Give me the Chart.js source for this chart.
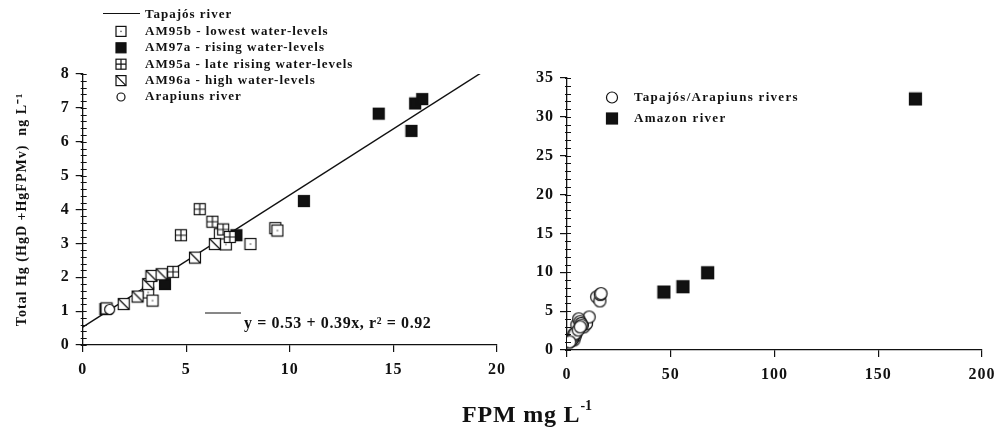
<!DOCTYPE html>
<html>
<head>
<meta charset="utf-8">
<script src="https://cdn.jsdelivr.net/npm/chart.js@4/dist/chart.umd.min.js"></script>
<style>
html, body { margin: 0; padding: 0; background: #fff; overflow: hidden; }
body { width: 994px; height: 429px; position: relative; font-family: "Liberation Serif", "Times New Roman", serif; }
#izq { position: absolute; left: 0; top: 0; }
#der { position: absolute; left: 520px; top: 0; }
#tituloX { position: absolute; left: 462px; top: 402px; font-weight: bold; font-size: 24px; letter-spacing: 0.8px; color: #111; white-space: nowrap; line-height: 1; }
#tituloX sup { font-size: 14px; position: relative; top: -3px; letter-spacing: 0; }
</style>
</head>
<body>
<canvas id="izq" width="520" height="429"></canvas>
<canvas id="der" width="494" height="429"></canvas>
<div id="tituloX">FPM mg L<sup>-1</sup></div>
<script>
// --- datos ---
const am95bX = [1.15, 3.16, 3.37, 6.62, 6.91, 8.1, 9.3, 9.4];
const am95bY = [1.08, 1.55, 1.31, 3.27, 2.97, 2.98, 3.45, 3.38];
const am97aX = [1.1, 3.97, 7.42, 10.68, 14.29, 15.87, 16.05, 16.39];
const am97aY = [1.06, 1.8, 3.24, 4.25, 6.83, 6.32, 7.13, 7.26];
const am95aX = [4.36, 4.74, 5.65, 6.26, 6.78, 7.1];
const am95aY = [2.16, 3.24, 4.01, 3.64, 3.41, 3.19];
const am96aX = [1.98, 2.65, 3.16, 3.32, 3.81, 5.42, 6.38];
const am96aY = [1.21, 1.43, 1.8, 2.04, 2.09, 2.58, 2.98];
const arapiunsX = [1.3];
const arapiunsY = [1.05];
const rectaX = [0, 19.2];
const rectaY = [0.53, 8.02];
const amazonasX = [46.7, 55.9, 67.8, 167.9];
const amazonasY = [7.46, 8.14, 9.94, 32.3];

const ticksIzqX = [0, 5, 10, 15, 20];
const ticksIzqY = [0, 1, 2, 3, 4, 5, 6, 7, 8];
const ticksDerX = [0, 50, 100, 150, 200];
const ticksDerY = [0, 5, 10, 15, 20, 25, 30, 35];

const etiquetasIzq = ['Tapajós river', 'AM95b - lowest water-levels', 'AM97a - rising water-levels',
    'AM95a - late rising water-levels', 'AM96a - high water-levels', 'Arapiuns river'];
const etiquetasDer = ['Tapajós/Arapiuns rivers', 'Amazon river'];
const ecuacion = 'y = 0.53 + 0.39x, r² = 0.92';

const NEGRO = '#111';
const FUENTE = '"Liberation Serif", "Times New Roman", serif';

function pares(xs, ys) {
    return xs.map((x, i) => ({ x: x, y: ys[i] }));
}

// marcadores dibujados a mano
function dibujarMarcador(g, tipo, cx, cy, lado) {
    const h = lado / 2;
    g.save();
    g.strokeStyle = NEGRO;
    g.lineWidth = 1.2;
    if (tipo === 'circulo') {
        g.beginPath();
        g.arc(cx, cy, h, 0, Math.PI * 2);
        g.fillStyle = '#fff';
        g.fill();
        g.stroke();
        g.restore();
        return;
    }
    g.fillStyle = tipo === 'lleno' ? NEGRO : '#fff';
    g.fillRect(cx - h, cy - h, lado, lado);
    g.strokeRect(cx - h, cy - h, lado, lado);
    g.beginPath();
    if (tipo === 'punto') {
        g.fillStyle = '#555';
        g.fillRect(cx - 0.7, cy - 0.7, 1.4, 1.4);
    } else if (tipo === 'cruz') {
        g.moveTo(cx, cy - h); g.lineTo(cx, cy + h);
        g.moveTo(cx - h, cy); g.lineTo(cx + h, cy);
    } else if (tipo === 'diagonal') {
        g.moveTo(cx - h, cy - h); g.lineTo(cx + h, cy + h);
    }
    g.stroke();
    g.restore();
}

function crearMarcador(tipo, lado) {
    const c = document.createElement('canvas');
    const t = Math.ceil(lado + 3);
    c.width = t; c.height = t;
    dibujarMarcador(c.getContext('2d'), tipo, t / 2, t / 2, lado);
    return c;
}

// ticks menores y letra espaciada
function pluginEjes(pasoMenor) {
    return {
        id: 'ejes',
        beforeDraw(chart) {
            chart.ctx.letterSpacing = '1px';
        },
        afterDraw(chart) {
            const g = chart.ctx;
            const y = chart.scales.y;
            g.save();
            g.strokeStyle = NEGRO;
            g.lineWidth = 1;
            const x0 = chart.chartArea.left;
            for (let v = y.min; v <= y.max + 1e-9; v += pasoMenor) {
                const py = Math.round(y.getPixelForValue(v)) + 0.5;
                g.beginPath();
                g.moveTo(x0 - 2, py);
                g.lineTo(x0 + 4, py);
                g.stroke();
            }
            g.restore();
        }
    };
}

const pluginLeyendaIzq = {
    id: 'leyendaIzq',
    afterDraw(chart) {
        const g = chart.ctx;
        const tipos = [null, 'punto', 'lleno', 'cruz', 'diagonal', 'circulo'];
        g.save();
        g.font = 'bold 13px ' + FUENTE;
        g.letterSpacing = '1px';
        g.fillStyle = NEGRO;
        g.textBaseline = 'middle';
        etiquetasIzq.forEach((txt, i) => {
            const yy = 15 + i * 16.4;
            if (i === 0) {
                g.strokeStyle = NEGRO;
                g.lineWidth = 1.2;
                g.beginPath();
                g.moveTo(103, yy - 1.5);
                g.lineTo(140, yy - 1.5);
                g.stroke();
            } else {
                dibujarMarcador(g, tipos[i], 121, yy, tipos[i] === 'circulo' ? 8 : 10);
            }
            g.fillText(txt, 145, yy);
        });
        // recta de la ecuacion
        g.strokeStyle = NEGRO;
        g.lineWidth = 1;
        g.beginPath();
        g.moveTo(205, 313);
        g.lineTo(241, 313);
        g.stroke();
        g.font = 'bold 16px ' + FUENTE;
        g.letterSpacing = '0.6px';
        g.textBaseline = 'alphabetic';
        g.fillText(ecuacion, 244, 328);
        g.restore();
    }
};

const pluginLeyendaDer = {
    id: 'leyendaDer',
    afterDraw(chart) {
        const g = chart.ctx;
        g.save();
        g.font = 'bold 13px ' + FUENTE;
        g.letterSpacing = '1.3px';
        g.fillStyle = NEGRO;
        g.textBaseline = 'middle';
        dibujarMarcador(g, 'circulo', 92, 97.5, 11);
        g.fillText(etiquetasDer[0], 114, 98);
        dibujarMarcador(g, 'lleno', 92, 118.5, 11);
        g.fillText(etiquetasDer[1], 114, 119);
        g.restore();
    }
};

function opcionesEjes(cfg) {
    return {
        x: {
            type: 'linear', min: cfg.xMin, max: cfg.xMax,
            afterFit: s => { s.height = cfg.altoX; },
            afterBuildTicks: s => { s.ticks = cfg.ticksX.map(v => ({ value: v })); },
            ticks: { color: NEGRO, padding: 8, font: { family: FUENTE, size: 16, weight: 'bold' } },
            grid: { drawOnChartArea: false, tickLength: 7, color: NEGRO, lineWidth: 1.2 },
            border: { color: NEGRO, width: 1.3 }
        },
        y: {
            type: 'linear', min: cfg.yMin, max: cfg.yMax,
            afterFit: s => { s.width = cfg.anchoY; },
            afterBuildTicks: s => { s.ticks = cfg.ticksY.map(v => ({ value: v })); },
            ticks: { color: NEGRO, padding: 6, font: { family: FUENTE, size: 16, weight: 'bold' } },
            grid: { drawOnChartArea: false, tickLength: 7, color: NEGRO, lineWidth: 1.2 },
            border: { color: NEGRO, width: 1.3 },
            title: cfg.tituloY ? {
                display: true, text: cfg.tituloY, color: NEGRO,
                padding: { top: 14, bottom: 0 },
                font: { family: FUENTE, size: 14, weight: 'bold' }
            } : { display: false }
        }
    };
}

const mk = {
    punto: crearMarcador('punto', 11),
    lleno: crearMarcador('lleno', 11),
    cruz: crearMarcador('cruz', 11),
    diagonal: crearMarcador('diagonal', 11),
    circulo: crearMarcador('circulo', 10),
    circuloDer: crearMarcador('circulo', 12),
    llenoDer: crearMarcador('lleno', 12)
};

new Chart(document.getElementById('izq'), {
    type: 'scatter',
    data: {
        datasets: [
            { label: etiquetasIzq[1], data: pares(am95bX, am95bY), pointStyle: mk.punto, order: 3 },
            { label: etiquetasIzq[3], data: pares(am95aX, am95aY), pointStyle: mk.cruz, order: 2 },
            { label: etiquetasIzq[2], data: pares(am97aX, am97aY), pointStyle: mk.lleno, order: 4 },
            { label: etiquetasIzq[4], data: pares(am96aX, am96aY), pointStyle: mk.diagonal, order: 1 },
            { label: etiquetasIzq[5], data: pares(arapiunsX, arapiunsY), pointStyle: mk.circulo, order: 0 },
            { label: etiquetasIzq[0], type: 'line', data: pares(rectaX, rectaY), borderColor: NEGRO,
              borderWidth: 1.4, pointRadius: 0, fill: false, order: 10 }
        ]
    },
    options: {
        responsive: false,
        animation: false,
        layout: { padding: { top: 74, right: 23, left: 0, bottom: 0 } },
        plugins: { legend: { display: false }, tooltip: { enabled: false } },
        scales: opcionesEjes({
            xMin: 0, xMax: 20, yMin: 0, yMax: 8, ticksX: ticksIzqX, ticksY: ticksIzqY,
            altoX: 84, anchoY: 82.7, tituloY: 'Total Hg (HgD +HgFPMv)  ng L⁻¹'
        })
    },
    plugins: [pluginEjes(0.2), pluginLeyendaIzq]
});

// el panel derecho junta todos los puntos del Tapajós/Arapiuns
const todosX = [].concat(am95bX, am97aX, am95aX, am96aX, arapiunsX);
const todosY = [].concat(am95bY, am97aY, am95aY, am96aY, arapiunsY);

new Chart(document.getElementById('der'), {
    type: 'scatter',
    data: {
        datasets: [
            { label: etiquetasDer[0], data: pares(todosX, todosY), pointStyle: mk.circuloDer },
            { label: etiquetasDer[1], data: pares(amazonasX, amazonasY), pointStyle: mk.llenoDer }
        ]
    },
    options: {
        responsive: false,
        animation: false,
        layout: { padding: { top: 78, right: 32, left: 0, bottom: 0 } },
        plugins: { legend: { display: false }, tooltip: { enabled: false } },
        scales: opcionesEjes({
            xMin: 0, xMax: 200, yMin: 0, yMax: 35, ticksX: ticksDerX, ticksY: ticksDerY,
            altoX: 79, anchoY: 47
        })
    },
    plugins: [pluginEjes(1), pluginLeyendaDer]
});
</script>
</body>
</html>
